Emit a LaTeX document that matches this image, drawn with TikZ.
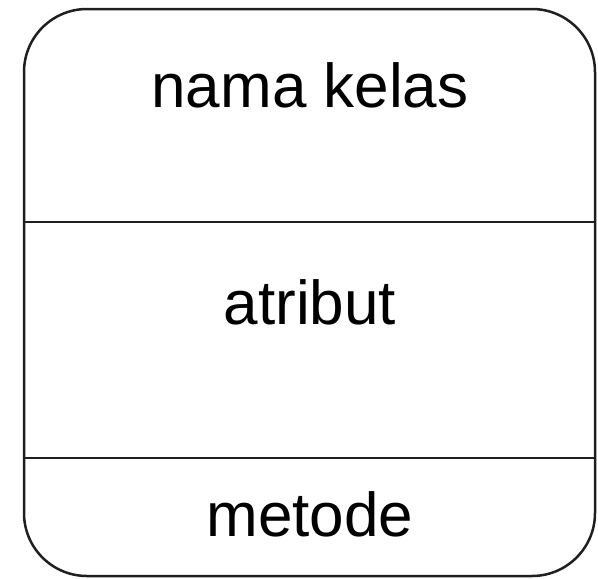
\documentclass[tikz,border=0pt]{standalone}
\usepackage{fontspec}
\setmainfont{Liberation Sans}
\usetikzlibrary{positioning}

\tikzset{
  classbox/.style={draw=black!88, line width=2.5pt, rounded corners=63pt,
    minimum width=571pt, minimum height=567pt, inner sep=0pt},
  divider/.style={draw=black!88, line width=2.5pt},
  compart/.style={font=\fontsize{62}{70}\selectfont, anchor=base, inner sep=0pt}
}

\begin{document}
\begin{tikzpicture}[x=1pt,y=-1pt]
  \useasboundingbox (0,0) rectangle (598,579);

  % class box
  \node[classbox] (kelas) at (309.5,292.5) {};

  % compartment borders
  \coordinate (l1) at (24,222);
  \coordinate (r1) at (595,222);
  \coordinate (l2) at (24,458);
  \coordinate (r2) at (595,458);
  \path[divider] (l1) -- (r1);
  \path[divider] (l2) -- (r2);

  % texts
  \node[compart] (nama)    at (310,107) {nama kelas};
  \node[compart] (atribut) at (310,324) {atribut};
  \node[compart] (metode)  at (310,536) {metode};

\end{tikzpicture}
\end{document}
